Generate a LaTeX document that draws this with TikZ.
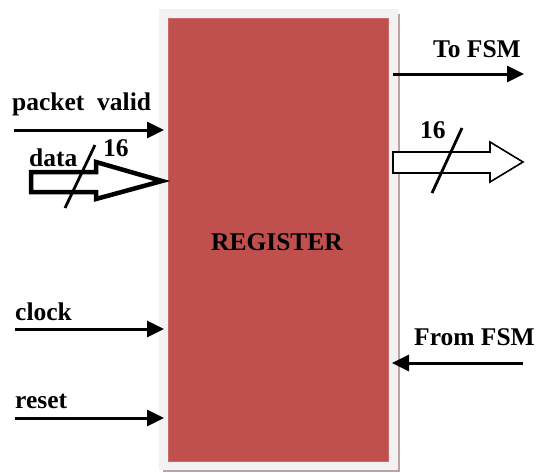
\documentclass[tikz,border=0pt]{standalone}
\usepackage{fontspec}
\setmainfont{Liberation Serif}
\usetikzlibrary{arrows.meta}
\definecolor{regred}{HTML}{C0504D}
\definecolor{framegray}{HTML}{F2F2F2}
\definecolor{shadowc}{HTML}{BFA3A3}
\begin{document}
\begin{tikzpicture}[x=1pt,y=-1pt,
  lbl/.style={font=\fontsize{25.5}{30}\selectfont\bfseries, inner sep=0pt, text=black},
  sig/.style={line width=3pt, -{Triangle[length=17pt,width=16pt]}},
  slash/.style={line width=2.8pt}]
\useasboundingbox (0,0) rectangle (536,472);
% frame with shadow
\fill[shadowc] (163,14) rectangle (400,472);
\node[fill=framegray, minimum width=239pt, minimum height=461pt, inner sep=0pt, anchor=north west] (frame) at (159,9) {};
\node[fill=regred, draw=regred!85!white, line width=0.6pt, minimum width=220pt, minimum height=443pt, inner sep=0pt, anchor=north west] (reg) at (168,18) {};
\node[lbl] (regtxt) at (277,242) {REGISTER};
% inputs
\coordinate (pvs) at (14,130); \coordinate (pve) at (164,130);
\draw[sig] (pvs) -- (pve);
\node[lbl, anchor=base west] (pvl) at (12,110) {packet\ \ valid};
\coordinate (cks) at (15,329); \coordinate (cke) at (164,329);
\draw[sig] (cks) -- (cke);
\node[lbl, anchor=base west] (ckl) at (15,320) {clock};
\coordinate (rss) at (15,418); \coordinate (rse) at (164,418);
\draw[sig] (rss) -- (rse);
\node[lbl, anchor=base west] (rsl) at (15,408) {reset};
% data hollow arrow
\draw[line width=4.5pt, line join=miter, fill=white] (31,172) -- (96,172) -- (96,162) -- (162,181) -- (96,199) -- (96,192) -- (31,192) -- cycle;
\coordinate (ds1) at (65,208); \coordinate (ds2) at (95,145);
\draw[slash] (ds1) -- (ds2);
\node[lbl, anchor=base west] (dl) at (29,166) {data};
\node[lbl, anchor=base west] (d16) at (103,156) {16};
% outputs
\coordinate (tfs) at (393,74); \coordinate (tfe) at (524,74);
\draw[sig] (tfs) -- (tfe);
\node[lbl, anchor=base east] (tfl) at (521,57) {To FSM};
\draw[line width=1.6pt, fill=white] (393,152) -- (490,152) -- (490,142) -- (523,162) -- (490,182) -- (490,173) -- (393,173) -- cycle;
\coordinate (os1) at (432,193); \coordinate (os2) at (462,128);
\draw[slash] (os1) -- (os2);
\node[lbl, anchor=base west] (o16) at (420,138) {16};
\coordinate (ffs) at (523,363); \coordinate (ffe) at (392,363);
\draw[sig] (ffs) -- (ffe);
\node[lbl, anchor=base east] (ffl) at (535,345) {From FSM};
\end{tikzpicture}
\end{document}
